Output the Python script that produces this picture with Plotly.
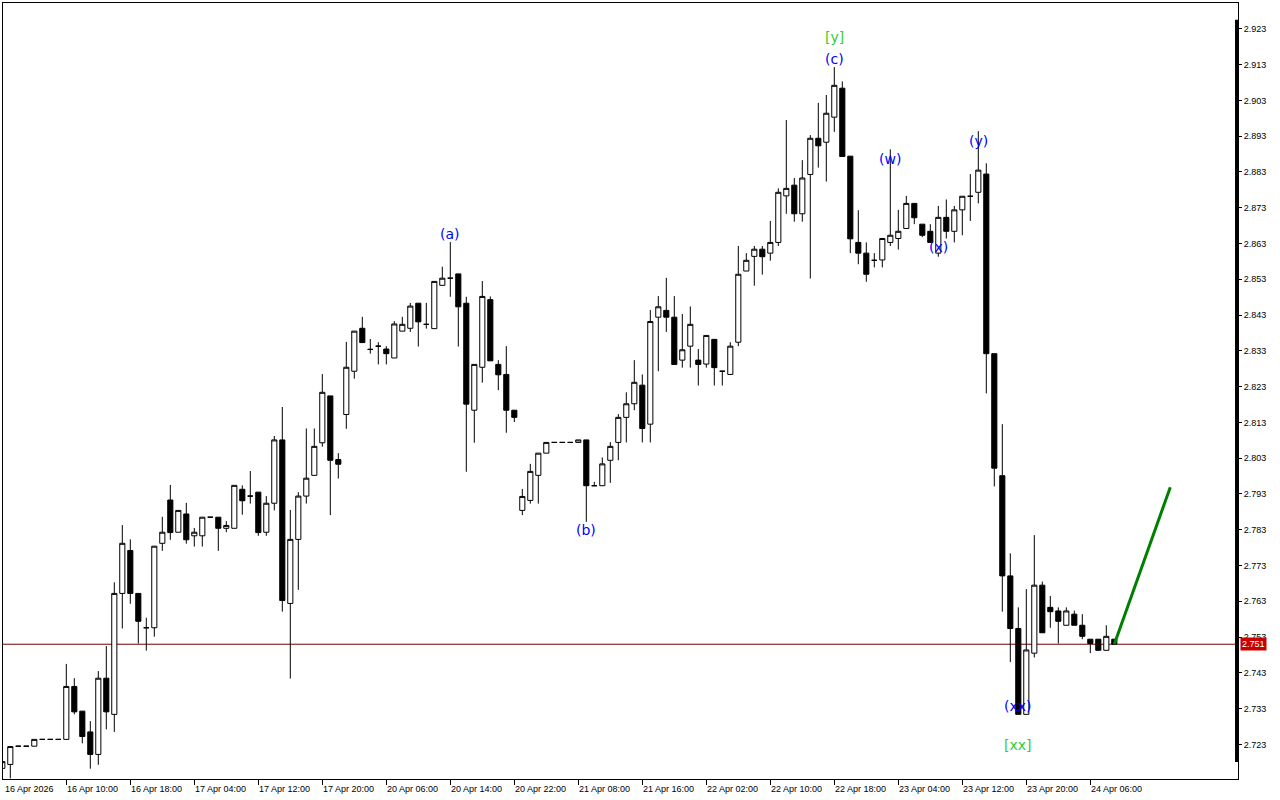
import plotly.graph_objects as go

# ---------------- data ----------------
bars = list(range(140))

open_ = [
    2.7163, 2.7174, 2.7225, 2.7225, 2.7225, 2.7244, 2.7244, 2.7244, 2.7244, 2.7392,
    2.7323, 2.7265, 2.7202, 2.7415, 2.7314, 2.7652, 2.7772, 2.7652, 2.7556, 2.7556,
    2.7792, 2.7913, 2.7823, 2.7874, 2.7813, 2.7813, 2.7865, 2.7865, 2.7834, 2.7834,
    2.7943, 2.7924, 2.7935, 2.7823, 2.7904, 2.8081, 2.7624, 2.7803, 2.7924, 2.7982,
    2.8073, 2.8204, 2.8026, 2.8152, 2.8273, 2.8393, 2.8334, 2.8343, 2.8335, 2.8310,
    2.8385, 2.8393, 2.8463, 2.8404, 2.8392, 2.8513, 2.8533, 2.8545, 2.8463, 2.8164,
    2.8284, 2.8473, 2.8292, 2.8264, 2.8164, 2.7884, 2.7912, 2.7982, 2.8044, 2.8074,
    2.8074, 2.8074, 2.8074, 2.8081, 2.7953, 2.7953, 2.8024, 2.8074, 2.8144, 2.8182,
    2.8234, 2.8125, 2.8424, 2.8443, 2.8424, 2.8304, 2.8343, 2.8304, 2.8293, 2.8362,
    2.8273, 2.8264, 2.8354, 2.8553, 2.8594, 2.8614, 2.8603, 2.8633, 2.8763, 2.8793,
    2.8713, 2.8823, 2.8924, 2.8913, 2.8983, 2.9064, 2.8874, 2.8633, 2.8603, 2.8583,
    2.8584, 2.8633, 2.8644, 2.8672, 2.8742, 2.8684, 2.8664, 2.8603, 2.8703, 2.8664,
    2.8724, 2.8762, 2.8773, 2.8824, 2.8322, 2.7981, 2.7701, 2.7554, 2.7314, 2.7485,
    2.7675, 2.7613, 2.7603, 2.7563, 2.7594, 2.7563, 2.7524, 2.7524, 2.7493, 2.7524,
]

high = [
    2.7182, 2.7224, 2.7225, 2.7225, 2.7244, 2.7244, 2.7244, 2.7244, 2.7455, 2.7415,
    2.7323, 2.7295, 2.7435, 2.7505, 2.7683, 2.7843, 2.7803, 2.7652, 2.7584, 2.7784,
    2.7866, 2.7955, 2.7884, 2.7905, 2.7835, 2.7865, 2.7865, 2.7865, 2.7854, 2.7954,
    2.7954, 2.7994, 2.7935, 2.7924, 2.8092, 2.8173, 2.7885, 2.7935, 2.8113, 2.8113,
    2.8265, 2.8204, 2.8044, 2.8355, 2.8385, 2.8425, 2.8363, 2.8354, 2.8343, 2.8413,
    2.8425, 2.8464, 2.8463, 2.8464, 2.8524, 2.8565, 2.8634, 2.8545, 2.8481, 2.8292,
    2.8525, 2.8482, 2.8304, 2.8343, 2.8164, 2.7944, 2.8014, 2.8044, 2.8074, 2.8074,
    2.8074, 2.8074, 2.8081, 2.8081, 2.7964, 2.8032, 2.8075, 2.8153, 2.8214, 2.8304,
    2.8264, 2.8444, 2.8483, 2.8534, 2.8483, 2.8433, 2.8454, 2.8335, 2.8373, 2.8362,
    2.8273, 2.8354, 2.8623, 2.8603, 2.8623, 2.8623, 2.8693, 2.8784, 2.8975, 2.8813,
    2.8863, 2.8933, 2.9023, 2.9045, 2.9123, 2.9083, 2.8874, 2.8723, 2.8633, 2.8603,
    2.8644, 2.8893, 2.8724, 2.8763, 2.8742, 2.8684, 2.8684, 2.8735, 2.8753, 2.8735,
    2.8762, 2.8824, 2.8944, 2.8854, 2.8322, 2.8125, 2.7764, 2.7613, 2.7664, 2.7815,
    2.7685, 2.7645, 2.7613, 2.7613, 2.7604, 2.7594, 2.7524, 2.7524, 2.7563, 2.7524,
]

low = [
    2.7163, 2.7135, 2.7225, 2.7225, 2.7225, 2.7244, 2.7244, 2.7244, 2.7244, 2.7314,
    2.7233, 2.7162, 2.7173, 2.7272, 2.7265, 2.7554, 2.7623, 2.7512, 2.7492, 2.7531,
    2.7771, 2.7802, 2.7823, 2.7791, 2.7783, 2.7783, 2.7865, 2.7771, 2.7823, 2.7834,
    2.7872, 2.7903, 2.7813, 2.7813, 2.7884, 2.7601, 2.7414, 2.7662, 2.7903, 2.7982,
    2.8062, 2.7871, 2.7973, 2.8112, 2.8252, 2.8353, 2.8322, 2.8292, 2.8292, 2.8310,
    2.8385, 2.8383, 2.8342, 2.8392, 2.8392, 2.8513, 2.8481, 2.8342, 2.7992, 2.8073,
    2.8241, 2.8302, 2.8220, 2.8101, 2.8131, 2.7871, 2.7903, 2.7903, 2.8044, 2.8074,
    2.8074, 2.8074, 2.8074, 2.7852, 2.7953, 2.7953, 2.7961, 2.8024, 2.8074, 2.8164,
    2.8074, 2.8074, 2.8273, 2.8383, 2.8292, 2.8283, 2.8283, 2.8233, 2.8283, 2.8233,
    2.8233, 2.8264, 2.8343, 2.8553, 2.8512, 2.8543, 2.8582, 2.8623, 2.8713, 2.8691,
    2.8691, 2.8532, 2.8842, 2.8803, 2.8942, 2.8873, 2.8603, 2.8572, 2.8523, 2.8563,
    2.8563, 2.8623, 2.8613, 2.8672, 2.8684, 2.8648, 2.8633, 2.8593, 2.8644, 2.8633,
    2.8653, 2.8693, 2.8742, 2.8211, 2.7951, 2.7601, 2.7460, 2.7314, 2.7314, 2.7473,
    2.7542, 2.7556, 2.7512, 2.7563, 2.7563, 2.7524, 2.7485, 2.7493, 2.7493, 2.7510,
]

close = [
    2.7182, 2.7224, 2.7225, 2.7225, 2.7244, 2.7244, 2.7244, 2.7244, 2.7392, 2.7321,
    2.7252, 2.7202, 2.7415, 2.7321, 2.7652, 2.7792, 2.7652, 2.7574, 2.7556, 2.7784,
    2.7823, 2.7822, 2.7884, 2.7802, 2.7823, 2.7865, 2.7865, 2.7834, 2.7842, 2.7954,
    2.7911, 2.7924, 2.7822, 2.7904, 2.8081, 2.7632, 2.7803, 2.7924, 2.7974, 2.8063,
    2.8214, 2.8024, 2.8013, 2.8284, 2.8385, 2.8353, 2.8334, 2.8343, 2.8322, 2.8405,
    2.8404, 2.8455, 2.8411, 2.8404, 2.8524, 2.8533, 2.8533, 2.8453, 2.8181, 2.8292,
    2.8482, 2.8302, 2.8263, 2.8164, 2.8144, 2.7923, 2.7993, 2.8044, 2.8074, 2.8074,
    2.8074, 2.8074, 2.8081, 2.7953, 2.7953, 2.8014, 2.8063, 2.8144, 2.8182, 2.8242,
    2.8113, 2.8412, 2.8453, 2.8424, 2.8292, 2.8333, 2.8404, 2.8292, 2.8373, 2.8283,
    2.8273, 2.8343, 2.8544, 2.8583, 2.8614, 2.8593, 2.8633, 2.8773, 2.8784, 2.8713,
    2.8813, 2.8924, 2.8903, 2.8994, 2.9072, 2.8873, 2.8643, 2.8603, 2.8544, 2.8583,
    2.8644, 2.8653, 2.8664, 2.8742, 2.8702, 2.8653, 2.8633, 2.8703, 2.8664, 2.8724,
    2.8762, 2.8762, 2.8835, 2.8322, 2.8002, 2.7701, 2.7554, 2.7314, 2.7494, 2.7675,
    2.7542, 2.7601, 2.7574, 2.7603, 2.7563, 2.7532, 2.7512, 2.7493, 2.7532, 2.7510,
]

first_label = "16 Apr 2026"
tick_bars = [8, 16, 24, 32, 40, 48, 56, 64, 72, 80, 88, 96, 104, 112, 120, 128, 136]
tick_labels = ["16 Apr 10:00", "16 Apr 18:00", "17 Apr 04:00", "17 Apr 12:00",
               "17 Apr 20:00", "20 Apr 06:00", "20 Apr 14:00", "20 Apr 22:00",
               "21 Apr 08:00", "21 Apr 16:00", "22 Apr 02:00", "22 Apr 10:00",
               "22 Apr 18:00", "23 Apr 04:00", "23 Apr 12:00", "23 Apr 20:00",
               "24 Apr 06:00"]

price_ticks = [2.723, 2.733, 2.743, 2.753, 2.763, 2.773, 2.783, 2.793, 2.803, 2.813,
               2.823, 2.833, 2.843, 2.853, 2.863, 2.873, 2.883, 2.893, 2.903, 2.913, 2.923]
price_tick_text = ["%.3f" % v for v in price_ticks]

current_price = 2.751

wave_text = ["(a)", "(b)", "(c)", "[y]", "(w)", "(x)", "(y)", "(xx)", "[xx]"]
wave_bar = [56, 73, 104, 104, 111, 117, 122, 127, 127]
wave_price = [2.8657, 2.7829, 2.9146, 2.9207, 2.8866, 2.8619, 2.8916, 2.7337, 2.7228]
wave_color = ["#0000FF", "#0000FF", "#0000FF", "#32CD32", "#0000FF", "#0000FF",
              "#0000FF", "#0000FF", "#32CD32"]

target_bars = [139, 146]
target_prices = [2.751, 2.7949]

# ---------------- figure ----------------
x_range = [0.0875, 154.4625]
y_range = [2.71333, 2.93021]

fig = go.Figure()

fig.add_trace(go.Candlestick(
    x=bars, open=open_, high=high, low=low, close=close,
    increasing=dict(line=dict(color="black", width=1), fillcolor="white"),
    decreasing=dict(line=dict(color="black", width=1), fillcolor="black"),
    whiskerwidth=0, showlegend=False,
))

fig.add_trace(go.Scatter(
    x=target_bars, y=target_prices, mode="lines",
    line=dict(color="#008000", width=3), showlegend=False, hoverinfo="skip",
))

# current price line
fig.add_shape(type="line", xref="paper", x0=0, x1=1, yref="y",
              y0=current_price, y1=current_price,
              line=dict(color="#6E0000", width=1), layer="below")

# thick right-hand scale bar
fig.add_shape(type="line", xref="paper", x0=0.9988, x1=0.9988, yref="y",
              y0=2.7181, y1=2.9255, line=dict(color="black", width=3))

annotations = []
annotations.append(dict(x=0, xref="paper", y=0, yref="paper", text=first_label,
                        xanchor="left", yanchor="top", yshift=-3, showarrow=False,
                        font=dict(family="Liberation Sans, Arial", size=9, color="black")))
for b, t in zip(tick_bars, tick_labels):
    annotations.append(dict(x=b, xref="x", y=0, yref="paper", text=t,
                            xanchor="left", yanchor="top", yshift=-3, xshift=-1,
                            showarrow=False,
                            font=dict(family="Liberation Sans, Arial", size=9, color="black")))
for t, b, p, c in zip(wave_text, wave_bar, wave_price, wave_color):
    annotations.append(dict(x=b, xref="x", y=p, yref="y", text=t, showarrow=False,
                            xanchor="center", yanchor="middle",
                            font=dict(family="DejaVu Sans", size=14, color=c)))
annotations.append(dict(x=1, xref="paper", y=current_price, yref="y",
                        text="%.3f" % current_price, showarrow=False,
                        xanchor="left", yanchor="middle", xshift=2,
                        bgcolor="#C80000", borderpad=1,
                        font=dict(family="Liberation Sans, Arial", size=9, color="white")))

fig.update_layout(
    width=1280, height=800,
    margin=dict(l=3, r=42, t=3, b=21, pad=0),
    paper_bgcolor="white", plot_bgcolor="white",
    boxgap=0.2, boxgroupgap=0.2,
    showlegend=False,
    annotations=annotations,
    hovermode=False,
)

fig.update_xaxes(
    range=x_range, rangeslider=dict(visible=False),
    showgrid=False, zeroline=False,
    showline=True, linecolor="black", linewidth=1, mirror=True,
    tickmode="array", tickvals=tick_bars, ticktext=[""] * len(tick_bars),
    ticks="outside", ticklen=5, tickcolor="black", tickwidth=1,
    fixedrange=True,
)

fig.update_yaxes(
    range=y_range, side="right",
    showgrid=False, zeroline=False,
    showline=True, linecolor="black", linewidth=1, mirror=True,
    tickmode="array", tickvals=price_ticks, ticktext=price_tick_text,
    ticks="outside", ticklen=3, tickcolor="black", tickwidth=1,
    tickfont=dict(family="Liberation Sans, Arial", size=9, color="black"),
    fixedrange=True,
)

fig.write_html("out.html", config={"displayModeBar": False},
               post_script="document.body.style.margin='0';document.body.style.overflow='hidden';")
